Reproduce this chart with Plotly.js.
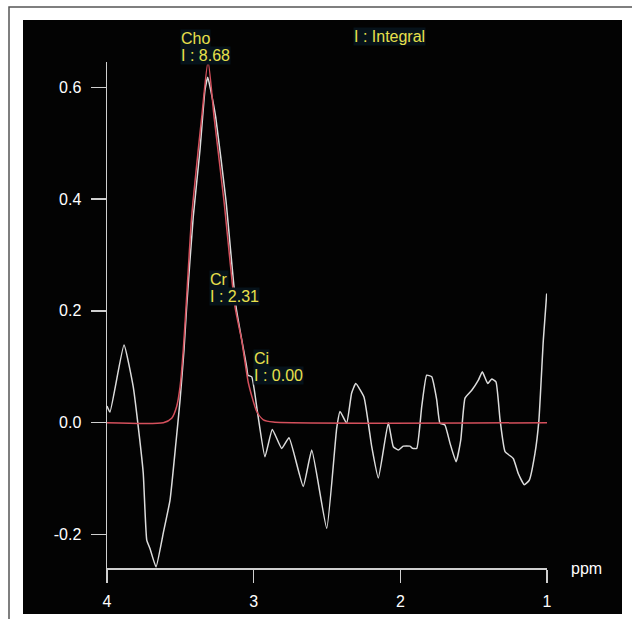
<!DOCTYPE html>
<html>
<head>
<meta charset="utf-8">
<script src="https://cdn.plot.ly/plotly-3.0.1.min.js"></script>
<style>html,body{margin:0;padding:0;background:#fff;}#chart{width:632px;height:619px;}</style>
</head>
<body>
<div id="chart"></div>
<script>
// Measured spectrum (white trace): chemical shift (ppm) and signal
var specPpm = [4.000, 3.980, 3.884, 3.821, 3.791, 3.753, 3.729, 3.707, 3.666, 3.616, 3.570, 3.530, 3.502, 3.475, 3.457, 3.412, 3.366, 3.348, 3.332, 3.313, 3.293, 3.259, 3.189, 3.120, 3.048, 3.039, 3.013, 2.973, 2.923, 2.873, 2.809, 2.759, 2.662, 2.604, 2.502, 2.434, 2.411, 2.366, 2.332, 2.304, 2.248, 2.195, 2.150, 2.082, 2.048, 2.014, 1.980, 1.934, 1.916, 1.888, 1.854, 1.820, 1.786, 1.752, 1.730, 1.696, 1.661, 1.620, 1.588, 1.559, 1.513, 1.468, 1.441, 1.404, 1.377, 1.348, 1.320, 1.286, 1.230, 1.196, 1.155, 1.121, 1.082, 1.055, 1.025, 1.002];
var specVal = [0.030, 0.019, 0.139, 0.064, 0.002, -0.090, -0.210, -0.225, -0.258, -0.197, -0.138, -0.036, 0.040, 0.130, 0.207, 0.368, 0.488, 0.547, 0.595, 0.618, 0.595, 0.547, 0.398, 0.207, 0.100, 0.085, 0.082, 0.017, -0.061, -0.012, -0.046, -0.027, -0.114, -0.049, -0.189, -0.010, 0.020, -0.001, 0.053, 0.070, 0.046, -0.043, -0.099, 0.000, -0.043, -0.049, -0.042, -0.042, -0.046, -0.046, 0.029, 0.085, 0.082, 0.041, -0.001, -0.004, -0.037, -0.070, -0.031, 0.044, 0.058, 0.076, 0.091, 0.070, 0.078, 0.073, 0.005, -0.052, -0.064, -0.091, -0.111, -0.103, -0.055, 0.005, 0.148, 0.231];

// Fitted curve (red trace)
var fitPpm = [4.000, 3.616, 3.559, 3.525, 3.502, 3.480, 3.461, 3.423, 3.378, 3.354, 3.311, 3.270, 3.203, 3.127, 3.082, 3.036, 2.979, 2.934, 2.866, 1.000];
var fitVal = [0.000, 0.000, 0.008, 0.029, 0.064, 0.130, 0.207, 0.368, 0.488, 0.547, 0.646, 0.547, 0.398, 0.207, 0.148, 0.071, 0.020, 0.005, 0.001, 0.000];

// Tick labels
var xTicks = [4, 3, 2, 1];
var xTickText = ['4', '3', '2', '1'];
var yTicks = [0.6, 0.4, 0.2, 0.0, -0.2];
var yTickText = ['0.6', '0.4', '0.2', '0.0', '-0.2'];

// Peak labels (paper coordinates, since the top ones sit above the axis range)
var peakNames = ['Cho', 'Cr', 'Ci'];
var peakIntegrals = ['I : 8.68', 'I : 2.31', 'I : 0.00'];
var peakLabelX = [0.1659, 0.2318, 0.3318];
var peakNameY = [1.0455, 0.5692, 0.4150];
var peakIntY = [1.0119, 0.5356, 0.3814];
var legendText = 'I : Integral';
var xUnit = 'ppm';

var yellow = '#e8e04c';
var font = 'Liberation Sans, Arial, sans-serif';

var traces = [
  {x: specPpm, y: specVal, mode: 'lines', line: {color: '#dcdcdc', width: 1.5, shape: 'spline', smoothing: 0.4}, hoverinfo: 'skip'},
  {x: fitPpm, y: fitVal, mode: 'lines', line: {color: '#d4505c', width: 1.5, shape: 'spline', smoothing: 0.6}, hoverinfo: 'skip'}
];

var labelFont = {family: font, size: 16, color: yellow};
var annotations = [];
for (var i = 0; i < peakNames.length; i++) {
  annotations.push({xref: 'paper', yref: 'paper', x: peakLabelX[i], y: peakNameY[i], text: peakNames[i], showarrow: false, xanchor: 'left', yanchor: 'middle', font: labelFont, bgcolor: '#06121a', borderpad: 0});
  annotations.push({xref: 'paper', yref: 'paper', x: peakLabelX[i], y: peakIntY[i], text: peakIntegrals[i], showarrow: false, xanchor: 'left', yanchor: 'middle', font: labelFont, bgcolor: '#06121a', borderpad: 0});
}
annotations.push({xref: 'paper', yref: 'paper', x: 0.5591, y: 1.0504, text: legendText, showarrow: false, xanchor: 'left', yanchor: 'middle', font: labelFont, bgcolor: '#06121a', borderpad: 0});
annotations.push({xref: 'paper', yref: 'paper', x: 1.050, y: 0.0, text: xUnit, showarrow: false, xanchor: 'left', yanchor: 'middle', font: {family: font, size: 16, color: '#ffffff'}});

var W = 440, H = 506, L = 107, T = 62;
function px(v) { return (v - L) / W; }
function py(v) { return (T + H - v) / H; }

var layout = {
  width: 632, height: 619,
  margin: {l: 107, r: 85, t: 62, b: 51, pad: 0},
  paper_bgcolor: '#ffffff',
  plot_bgcolor: 'rgba(0,0,0,0)',
  showlegend: false,
  xaxis: {
    range: [4, 1], showgrid: false, zeroline: false,
    showline: true, linecolor: '#cfcfcf', linewidth: 1.5,
    ticks: 'outside', ticklen: 13, tickwidth: 1.5, tickcolor: '#cfcfcf',
    tickvals: xTicks, ticktext: xTickText, ticklabelstandoff: 5,
    tickfont: {family: font, size: 16, color: '#ffffff'}
  },
  yaxis: {
    range: [-0.26, 0.6453], showgrid: false, zeroline: false,
    showline: true, linecolor: '#cfcfcf', linewidth: 1.5,
    ticks: 'outside', ticklen: 15, tickwidth: 1.5, tickcolor: '#cfcfcf',
    tickvals: yTicks, ticktext: yTickText, ticklabelstandoff: 6,
    tickfont: {family: font, size: 16, color: '#ffffff'}
  },
  shapes: [
    {type: 'rect', xref: 'paper', yref: 'paper', layer: 'below', x0: px(9), x1: px(660), y0: py(660), y1: py(7), line: {color: '#555555', width: 1.5}, fillcolor: '#ffffff'},
    {type: 'rect', xref: 'paper', yref: 'paper', layer: 'below', x0: px(23), x1: px(622), y0: py(614), y1: py(20), line: {width: 0}, fillcolor: '#030303'}
  ],
  annotations: annotations
};

Plotly.newPlot('chart', traces, layout, {displayModeBar: false, staticPlot: true});
</script>
</body>
</html>
